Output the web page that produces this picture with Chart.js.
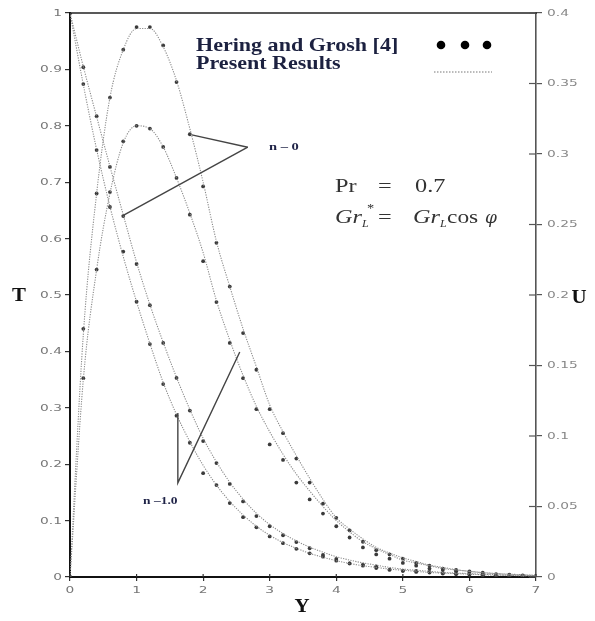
<!DOCTYPE html>
<html>
<head>
<meta charset="utf-8">
<script src="https://cdn.jsdelivr.net/npm/chart.js@4.4.1/dist/chart.umd.min.js"></script>
<style>
html,body{margin:0;padding:0;background:#fff;}
#wrap{width:595px;height:621px;position:relative;}
</style>
</head>
<body>
<div id="wrap"><canvas id="c" width="595" height="621"></canvas></div>
<script>
// Y positions (abscissa)
const yPos = [0,0.2,0.4,0.6,0.8,1.0,1.2,1.4,1.6,1.8,2.0,2.2,2.4,2.6,2.8,3.0,3.2,3.4,3.6,3.8,4.0,4.2,4.4,4.6,4.8,5.0,5.2,5.4,5.6,5.8,6.0,6.2,6.4,6.6,6.8,7.0];

// Present Results (lines) - temperature T (left axis)
const tLine1 = [1.0,0.905,0.816,0.728,0.642,0.558,0.483,0.416,0.354,0.297,0.246,0.204,0.168,0.138,0.113,0.093,0.077,0.064,0.053,0.044,0.036,0.030,0.025,0.021,0.017,0.014,0.012,0.010,0.008,0.007,0.006,0.005,0.004,0.003,0.003,0.002];
const tLine2 = [1.0,0.873,0.758,0.657,0.568,0.488,0.414,0.345,0.288,0.240,0.198,0.163,0.134,0.110,0.090,0.074,0.061,0.051,0.042,0.035,0.029,0.024,0.020,0.017,0.014,0.012,0.010,0.008,0.007,0.006,0.005,0.004,0.003,0.003,0.002,0.002];
// Present Results (lines) - velocity U (right axis)
const uLine1 = [0,0.172,0.272,0.340,0.374,0.389,0.389,0.376,0.352,0.318,0.280,0.238,0.206,0.176,0.149,0.122,0.103,0.086,0.070,0.055,0.042,0.034,0.027,0.021,0.017,0.0136,0.011,0.0084,0.0068,0.0052,0.004,0.0032,0.0024,0.002,0.0016,0.0012];
const uLine2 = [0,0.140,0.218,0.272,0.308,0.320,0.318,0.305,0.283,0.258,0.230,0.196,0.168,0.143,0.121,0.103,0.087,0.073,0.061,0.050,0.040,0.032,0.025,0.020,0.016,0.012,0.010,0.008,0.006,0.005,0.004,0.003,0.0024,0.0018,0.0014,0.001];

// Hering and Grosh [4] (markers)
const tMark1 = [1.0,0.904,0.817,0.727,0.640,0.555,0.482,0.415,0.353,0.295,0.241,0.202,0.165,0.134,0.108,0.090,0.074,0.062,0.051,0.039,0.032,0.024,0.022,0.019,0.013,0.011,0.011,0.009,0.007,0.006,0.005,0.004,0.003,0.002,0.002,0.001];
const tMark2 = [1.0,0.874,0.757,0.656,0.577,0.488,0.413,0.342,0.286,0.238,0.184,0.163,0.131,0.106,0.088,0.072,0.060,0.050,0.042,0.036,0.029,0.024,0.020,0.016,0.013,0.011,0.009,0.008,0.006,0.005,0.004,0.003,0.003,0.002,0.002,0.001];
const uMark1 = [0,0.176,0.272,0.340,0.374,0.390,0.390,0.377,0.351,0.314,0.277,0.237,0.206,0.173,0.147,0.119,0.102,0.084,0.067,0.052,0.042,0.033,0.025,0.019,0.016,0.013,0.010,0.008,0.006,0.005,0.004,0.003,0.002,0.0016,0.0012,0.0008];
const uMark2 = [0,0.141,0.218,0.273,0.309,0.320,0.318,0.305,0.283,0.257,0.224,0.195,0.166,0.141,0.119,0.094,0.083,0.067,0.055,0.045,0.036,0.028,0.021,0.016,0.013,0.010,0.008,0.006,0.005,0.004,0.003,0.002,0.0015,0.001,0.0008,0.0005];

// Axis ticks
const xTicks = [0,1,2,3,4,5,6,7];
const tTicks = [0,0.1,0.2,0.3,0.4,0.5,0.6,0.7,0.8,0.9,1];
const uTicks = [0,0.05,0.1,0.15,0.2,0.25,0.3,0.35,0.4];

// Annotation pointers (data units on Y / T axes)
const ann0 = {label:'n \u2013 0', vertex:[2.67,0.762], ends:[[1.83,0.784],[0.78,0.640]]};
const ann1 = {label:'n \u20131.0', path:[[1.62,0.291],[1.62,0.167],[2.55,0.399]]};

const pts = arr => arr.map((v,i)=>({x:yPos[i], y:v}));

const lineStyle = (data, axis) => ({
  data: pts(data), yAxisID: axis, borderColor:'#8a8a8a', borderWidth:1.1,
  borderDash:[1.2,1.3], pointRadius:0, fill:false, cubicInterpolationMode:'monotone'
});
const markStyle = (data, axis) => ({
  data: pts(data), yAxisID: axis, showLine:false, pointRadius:1.9,
  pointBackgroundColor:'#3a3a3a', pointBorderColor:'#3a3a3a', pointBorderWidth:0
});

const fmt = v => String(+Number(v).toFixed(2));

function txt(ctx, s, x, y, font, sx, align, color, base){
  ctx.save();
  ctx.font = font; ctx.fillStyle = color; ctx.textAlign = align || 'left';
  ctx.textBaseline = base || 'alphabetic';
  ctx.translate(x, y); ctx.scale(sx, 1);
  ctx.fillText(s, 0, 0);
  ctx.restore();
}

const overlay = {
  id:'overlay',
  afterDraw(chart){
    const ctx = chart.ctx, a = chart.chartArea;
    const sx = chart.scales.x, sy = chart.scales.y, su = chart.scales.y1;
    const P = (p)=>[sx.getPixelForValue(p[0]), sy.getPixelForValue(p[1])];
    ctx.save();
    // top border
    ctx.strokeStyle='#222'; ctx.lineWidth=1.6;
    ctx.beginPath(); ctx.moveTo(a.left, a.top); ctx.lineTo(a.right+1, a.top); ctx.stroke();
    // inner tick parts (x and right axis)
    ctx.strokeStyle='#333'; ctx.lineWidth=1.2;
    xTicks.forEach(v=>{const px=sx.getPixelForValue(v); ctx.beginPath(); ctx.moveTo(px,a.bottom); ctx.lineTo(px,a.bottom-3); ctx.stroke();});
    ctx.strokeStyle='#555';
    uTicks.forEach(v=>{const py=su.getPixelForValue(v); ctx.beginPath(); ctx.moveTo(a.right,py); ctx.lineTo(a.right-7,py); ctx.stroke();});
    // tick labels (wide, light grey)
    const tf = '9.5px "DejaVu Sans", sans-serif';
    tTicks.forEach(v=>txt(ctx, fmt(v), a.left-8, sy.getPixelForValue(v)+0.5, tf, 1.45, 'right', '#777', 'middle'));
    uTicks.forEach(v=>txt(ctx, fmt(v), a.right+11, su.getPixelForValue(v)+0.5, tf, 1.45, 'left', '#888', 'middle'));
    xTicks.forEach(v=>txt(ctx, fmt(v), sx.getPixelForValue(v), a.bottom+14, tf, 1.45, 'center', '#777', 'middle'));
    // annotation lines
    ctx.strokeStyle='#444'; ctx.lineWidth=1.4;
    ann0.ends.forEach(e=>{const v=P(ann0.vertex), q=P(e); ctx.beginPath(); ctx.moveTo(v[0],v[1]); ctx.lineTo(q[0],q[1]); ctx.stroke();});
    ctx.beginPath(); ann1.path.forEach((p,i)=>{const q=P(p); if(i) ctx.lineTo(q[0],q[1]); else ctx.moveTo(q[0],q[1]);}); ctx.stroke();
    // n labels
    const nf = 'bold 10px "Liberation Serif", serif';
    txt(ctx, ann0.label, 269, 150, nf, 1.45, 'left', '#1f2347');
    txt(ctx, ann1.label, 143, 504, nf, 1.35, 'left', '#1f2347');
    // axis titles
    const af = 'bold 19px "Liberation Serif", serif';
    txt(ctx, 'T', 19, 301, af, 1.1, 'center', '#111');
    txt(ctx, 'U', 579, 303, af, 1.1, 'center', '#111');
    txt(ctx, 'Y', 302, 612, af, 1.1, 'center', '#111');
    // legend
    const lf = 'bold 19px "Liberation Serif", serif';
    txt(ctx, 'Hering and Grosh [4]', 196, 51, lf, 1.16, 'left', '#1c2140');
    txt(ctx, 'Present Results', 196, 69, lf, 1.16, 'left', '#1c2140');
    ctx.fillStyle='#000';
    [441,465,487].forEach(x=>{ctx.beginPath(); ctx.arc(x,45,4.3,0,Math.PI*2); ctx.fill();});
    ctx.strokeStyle='#777'; ctx.lineWidth=1; ctx.setLineDash([1.5,1.5]);
    ctx.beginPath(); ctx.moveTo(434,72); ctx.lineTo(492,72); ctx.stroke();
    ctx.setLineDash([]);
    // parameters
    const rf = '18px "Liberation Serif", serif', itf = 'italic 18px "Liberation Serif", serif', sf = 'italic 10px "Liberation Serif", serif';
    const pc = '#333', k = 1.35;
    txt(ctx, 'Pr', 335, 192, rf, k, 'left', pc);
    txt(ctx, '=', 378, 192, rf, k, 'left', pc);
    txt(ctx, '0.7', 415, 192, rf, k, 'left', pc);
    txt(ctx, 'Gr', 335, 223, itf, k, 'left', pc);
    txt(ctx, 'L', 362, 227, sf, 1.2, 'left', pc);
    txt(ctx, '*', 367, 212, '12px "Liberation Serif", serif', 1.2, 'left', pc);
    txt(ctx, '=', 378, 223, rf, k, 'left', pc);
    txt(ctx, 'Gr', 413, 223, itf, k, 'left', pc);
    txt(ctx, 'L', 440, 227, sf, 1.2, 'left', pc);
    txt(ctx, 'cos', 447, 223, rf, 1.3, 'left', pc);
    txt(ctx, '\u03C6', 485, 223, 'italic 17px "DejaVu Serif", serif', 1.0, 'left', pc);
    ctx.restore();
  }
};

new Chart(document.getElementById('c'), {
  type:'line',
  data:{ datasets:[
    lineStyle(tLine1,'y'), lineStyle(tLine2,'y'), lineStyle(uLine1,'y1'), lineStyle(uLine2,'y1'),
    markStyle(tMark1,'y'), markStyle(tMark2,'y'), markStyle(uMark1,'y1'), markStyle(uMark2,'y1')
  ]},
  options:{
    responsive:false, animation:false, devicePixelRatio:1,
    layout:{padding:{top:13,left:0,right:0,bottom:0}},
    plugins:{legend:{display:false}, tooltip:{enabled:false}},
    scales:{
      x:{type:'linear', min:0, max:7,
         afterBuildTicks:s=>{s.ticks=xTicks.map(v=>({value:v}));},
         afterFit:s=>{s.height=44;},
         ticks:{display:false},
         grid:{drawOnChartArea:false, drawTicks:true, tickLength:4, color:'#333', lineWidth:1.2},
         border:{display:true, color:'#111', width:2}},
      y:{type:'linear', position:'left', min:0, max:1,
         afterBuildTicks:s=>{s.ticks=tTicks.map(v=>({value:v}));},
         afterFit:s=>{s.width=70;},
         ticks:{display:false},
         grid:{drawOnChartArea:false, drawTicks:true, tickLength:5, color:'#333', lineWidth:1.2},
         border:{display:true, color:'#111', width:2}},
      y1:{type:'linear', position:'right', min:0, max:0.4,
         afterBuildTicks:s=>{s.ticks=uTicks.map(v=>({value:v}));},
         afterFit:s=>{s.width=59;},
         ticks:{display:false},
         grid:{drawOnChartArea:false, drawTicks:true, tickLength:6, color:'#555', lineWidth:1.2},
         border:{display:true, color:'#555', width:1.6}}
    }
  },
  plugins:[overlay]
});
</script>
</body>
</html>
